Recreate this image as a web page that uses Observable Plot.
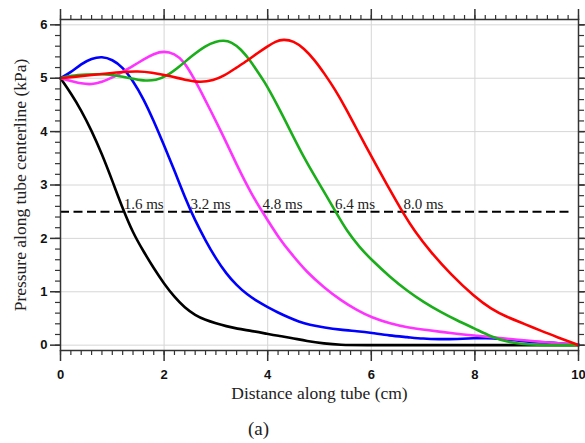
<!DOCTYPE html>
<html><head><meta charset="utf-8">
<script src="https://cdn.jsdelivr.net/npm/d3@7"></script>
<script src="https://cdn.jsdelivr.net/npm/@observablehq/plot@0.6"></script>
<style>body{margin:0;background:#fff}</style>
</head><body><div id="chart"></div>
<script>
// ---- data ----
const times = ["1.6 ms", "3.2 ms", "4.8 ms", "6.4 ms", "8.0 ms"];
const colors = ["#000000", "#0000ff", "#ff33ff", "#1aae1a", "#ff0000"];

const x16 = [0, 0.2, 0.4, 0.6, 0.8, 1.0, 1.2, 1.4, 1.6, 1.8, 2.0, 2.2, 2.4, 2.6, 2.8, 3.0, 3.2, 3.4, 3.7, 4.0, 4.2, 4.44, 4.76, 5.09, 5.4, 5.8, 7.0, 8.5, 10];
const p16 = [5.0, 4.72, 4.40, 4.02, 3.58, 3.08, 2.56, 2.10, 1.76, 1.44, 1.15, 0.90, 0.70, 0.56, 0.47, 0.41, 0.355, 0.31, 0.265, 0.21, 0.175, 0.14, 0.075, 0.03, 0.005, 0, 0, 0, 0];

const x32 = [0, 0.2, 0.4, 0.6, 0.8, 1.0, 1.2, 1.4, 1.6, 1.8, 2.0, 2.2, 2.4, 2.6, 2.8, 3.0, 3.2, 3.4, 3.6, 3.8, 4.0, 4.2, 4.4, 4.6, 4.8, 5.1, 5.4, 5.73, 6.0, 6.35, 6.7, 7.0, 7.3, 7.66, 8.0, 8.2, 8.5, 8.95, 9.3, 9.6, 10];
const p32 = [5.0, 5.11, 5.27, 5.37, 5.41, 5.35, 5.21, 4.95, 4.62, 4.20, 3.74, 3.27, 2.77, 2.33, 1.96, 1.62, 1.34, 1.12, 0.95, 0.82, 0.71, 0.61, 0.52, 0.44, 0.38, 0.33, 0.29, 0.26, 0.23, 0.18, 0.15, 0.12, 0.11, 0.115, 0.13, 0.135, 0.12, 0.07, 0.05, 0.04, 0.01];

const x48 = [0, 0.2, 0.4, 0.6, 0.8, 1.0, 1.2, 1.4, 1.6, 1.8, 2.0, 2.2, 2.38, 2.57, 2.77, 3.03, 3.22, 3.41, 3.67, 3.90, 4.22, 4.44, 4.76, 5.09, 5.41, 5.73, 6.0, 6.37, 6.7, 7.02, 7.66, 8.0, 8.63, 9.27, 10];
const p48 = [5.0, 4.95, 4.90, 4.88, 4.93, 5.01, 5.12, 5.23, 5.35, 5.46, 5.51, 5.46, 5.32, 5.01, 4.64, 4.14, 3.76, 3.36, 2.86, 2.49, 2.00, 1.73, 1.36, 1.08, 0.84, 0.65, 0.52, 0.40, 0.33, 0.29, 0.21, 0.18, 0.12, 0.06, 0.01];

const x64 = [0, 0.2, 0.5, 0.8, 1.1, 1.35, 1.6, 1.85, 2.05, 2.3, 2.55, 2.8, 3.0, 3.15, 3.3, 3.48, 3.67, 3.8, 3.93, 4.18, 4.44, 4.70, 4.96, 5.15, 5.31, 5.54, 5.77, 6.0, 6.37, 6.69, 7.02, 7.34, 7.66, 8.0, 8.31, 8.63, 8.95, 9.5, 10];
const p64 = [5.0, 5.05, 5.07, 5.08, 5.05, 5.00, 4.95, 4.96, 5.04, 5.22, 5.43, 5.61, 5.69, 5.71, 5.68, 5.55, 5.32, 5.13, 4.95, 4.51, 4.01, 3.51, 3.08, 2.77, 2.50, 2.12, 1.84, 1.60, 1.27, 1.02, 0.80, 0.62, 0.46, 0.31, 0.16, 0.06, 0.01, 0.0, 0.0];

const x80 = [0, 0.3, 0.6, 0.9, 1.2, 1.5, 1.74, 2.12, 2.4, 2.7, 2.95, 3.15, 3.4, 3.61, 3.8, 4.0, 4.15, 4.3, 4.5, 4.7, 4.9, 5.1, 5.3, 5.5, 5.7, 5.9, 6.1, 6.3, 6.5, 6.6, 6.83, 7.15, 7.53, 8.0, 8.31, 8.63, 8.95, 9.27, 9.59, 10];
const p80 = [5.0, 5.03, 5.06, 5.09, 5.12, 5.13, 5.11, 5.04, 4.97, 4.92, 4.96, 5.04, 5.20, 5.33, 5.47, 5.60, 5.69, 5.73, 5.70, 5.56, 5.35, 5.08, 4.79, 4.45, 4.08, 3.72, 3.36, 3.01, 2.67, 2.50, 2.14, 1.74, 1.33, 0.90, 0.68, 0.52, 0.40, 0.27, 0.15, 0.0];

const labelX = [1.22, 2.51, 3.9, 5.3, 6.62];
const threshold = 2.5;
const dashExtent = [0, 9.9];

const xTicks = [0, 2, 4, 6, 8, 10];
const yTicks = [0, 1, 2, 3, 4, 5, 6];
const xLabel = "Distance along tube (cm)";
const yLabel = "Pressure along tube centerline (kPa)";
const caption = "(a)";

// ---- build table ----
const seriesX = [x16, x32, x48, x64, x80];
const seriesP = [p16, p32, p48, p64, p80];
const rows = [];
seriesX.forEach((xs, i) => xs.forEach((x, j) => rows.push({t: times[i], x, p: seriesP[i][j]})));
const xMinor = d3.ticks(0, 10, 50);
const yMinor = d3.ticks(0, 6, 30);
const blank = () => "";
const axisCol = "#333";
const serif = "Liberation Serif, Times New Roman, serif";
const sans = "Liberation Sans, Arial, sans-serif";

const chart = Plot.plot({
  width: 585, height: 443,
  marginLeft: 60, marginRight: 7, marginTop: 19, marginBottom: 93,
  x: {domain: [0, 10]},
  y: {domain: [-0.1, 6.1]},
  color: {domain: times, range: colors},
  style: {background: "white", overflow: "visible"},
  marks: [
    Plot.gridX(xTicks, {stroke: "#d6d6d6", strokeOpacity: 1, strokeWidth: 1}),
    Plot.gridY(yTicks, {stroke: "#d6d6d6", strokeOpacity: 1, strokeWidth: 1}),
    Plot.ruleY([threshold], {x1: dashExtent[0], x2: dashExtent[1], stroke: "#000", strokeWidth: 2, strokeDasharray: "9,4.5"}),
    Plot.line(rows, {x: "x", y: "p", z: "t", stroke: "t", strokeWidth: 2.6, curve: "basis"}),
    Plot.text(times, {x: (d, i) => labelX[i], y: () => threshold, text: d => d, textAnchor: "start", lineAnchor: "bottom", dy: -3, fontFamily: serif, fontSize: 15, fill: "#222"}),
    Plot.frame({stroke: axisCol, strokeWidth: 1.5}),
    // bottom axis
    Plot.axisX(xTicks, {anchor: "bottom", tickSize: 11, tickPadding: 8, tickFormat: "d", stroke: axisCol, strokeWidth: 1.5, fontFamily: sans, fontWeight: "bold", fontSize: 13, fill: "#111", label: null}),
    Plot.axisX(xMinor, {anchor: "bottom", tickSize: 5, tickFormat: blank, stroke: axisCol, strokeWidth: 1.2, label: null}),
    // top axis
    Plot.axisX(xTicks, {anchor: "top", tickSize: 11, tickFormat: blank, stroke: axisCol, strokeWidth: 1.5, label: null}),
    Plot.axisX(xMinor, {anchor: "top", tickSize: 5, tickFormat: blank, stroke: axisCol, strokeWidth: 1.2, label: null}),
    // left axis
    Plot.axisY(yTicks, {anchor: "left", tickSize: 10, tickPadding: 3, tickFormat: "d", stroke: axisCol, strokeWidth: 1.5, fontFamily: sans, fontWeight: "bold", fontSize: 13, fill: "#111", label: null}),
    Plot.axisY(yMinor, {anchor: "left", tickSize: 5, tickFormat: blank, stroke: axisCol, strokeWidth: 1.2, label: null}),
    // right axis
    Plot.axisY(yTicks, {anchor: "right", tickSize: 10, tickFormat: blank, stroke: axisCol, strokeWidth: 1.5, label: null}),
    Plot.axisY(yMinor, {anchor: "right", tickSize: 5, tickFormat: blank, stroke: axisCol, strokeWidth: 1.2, label: null}),
    // axis titles and caption
    Plot.text([xLabel], {frameAnchor: "bottom", text: d => d, textAnchor: "middle", lineAnchor: "middle", dy: 43, fontFamily: serif, fontSize: 17.5, fill: "#222"}),
    Plot.text([yLabel], {frameAnchor: "left", text: d => d, textAnchor: "middle", lineAnchor: "middle", rotate: -90, dx: -40, fontFamily: serif, fontSize: 17.5, fill: "#222"}),
    Plot.text([caption], {frameAnchor: "bottom", text: d => d, textAnchor: "middle", lineAnchor: "middle", dx: -61, dy: 78, fontFamily: serif, fontSize: 19, fill: "#222"})
  ]
});
document.getElementById("chart").append(chart);
</script>
</body></html>
